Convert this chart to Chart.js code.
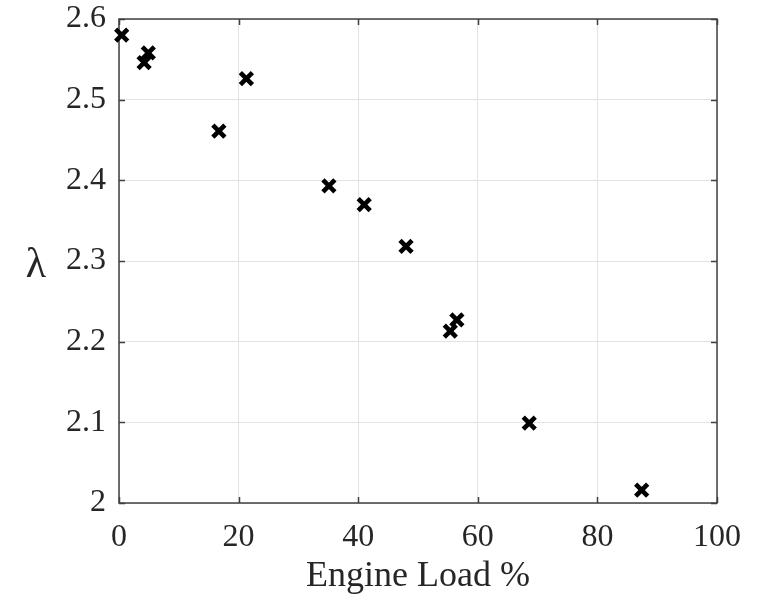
<!DOCTYPE html>
<html>
<head>
<meta charset="utf-8">
<script src="https://cdn.jsdelivr.net/npm/chart.js@4"></script>
<style>
  html, body { margin: 0; padding: 0; background: #ffffff; }
  #wrap { width: 770px; height: 600px; position: relative; }
</style>
</head>
<body>
<div id="wrap"><canvas id="c" width="770" height="600"></canvas></div>
<script>
const engineLoad = [0.45, 4.2, 4.9, 16.7, 21.3, 35.1, 41.0, 48.0, 55.4, 56.5, 68.6, 87.4];
const lambdaValues = [2.580, 2.546, 2.558, 2.461, 2.526, 2.393, 2.370, 2.318, 2.213, 2.227, 2.099, 2.016];
const xTicks = [0, 20, 40, 60, 80, 100];
const yTicks = [2, 2.1, 2.2, 2.3, 2.4, 2.5, 2.6];
const xTitle = 'Engine Load %';
const yTitle = 'λ';

const points = engineLoad.map((x, i) => ({ x: x, y: lambdaValues[i] }));
const FONT = '"Liberation Serif", "Times New Roman", serif';
const AXIS_COLOR = '#262626';

const framePlugin = {
  id: 'frame',
  beforeDatasetsDraw(chart) {
    const { ctx, chartArea: a, scales } = chart;
    ctx.save();
    ctx.strokeStyle = '#404040';
    ctx.lineWidth = 1.5;
    ctx.strokeRect(a.left, a.top, a.right - a.left, a.bottom - a.top);
    const tl = 6;
    ctx.beginPath();
    xTicks.forEach(v => {
      const px = Math.round(scales.x.getPixelForValue(v)) + 0.5;
      ctx.moveTo(px, a.bottom); ctx.lineTo(px, a.bottom - tl);
      ctx.moveTo(px, a.top); ctx.lineTo(px, a.top + tl);
    });
    yTicks.forEach(v => {
      const py = Math.round(scales.y.getPixelForValue(v)) + 0.5;
      ctx.moveTo(a.left, py); ctx.lineTo(a.left + tl, py);
      ctx.moveTo(a.right, py); ctx.lineTo(a.right - tl, py);
    });
    ctx.stroke();
    // y axis title (unrotated, as in the reference)
    ctx.fillStyle = AXIS_COLOR;
    ctx.font = '42px ' + FONT;
    ctx.textAlign = 'center';
    ctx.textBaseline = 'alphabetic';
    ctx.fillText(yTitle, 36, 277);
    ctx.restore();
  }
};

new Chart(document.getElementById('c'), {
  type: 'scatter',
  data: {
    datasets: [{
      data: points,
      clip: false,
      pointStyle: 'crossRot',
      pointRadius: 8.5,
      pointHoverRadius: 8.5,
      borderColor: '#000000',
      backgroundColor: '#000000',
      pointBorderWidth: 4.6,
      pointHoverBorderWidth: 4.6
    }]
  },
  plugins: [framePlugin],
  options: {
    responsive: false,
    animation: false,
    devicePixelRatio: 1,
    layout: { padding: { top: 19, right: 53, bottom: 0, left: 0 } },
    plugins: { legend: { display: false }, tooltip: { enabled: false } },
    scales: {
      x: {
        type: 'linear',
        min: 0, max: 100,
        afterBuildTicks: s => { s.ticks = xTicks.map(v => ({ value: v })); },
        afterFit: s => { s.height = 97; s.paddingLeft = 0; s.paddingRight = 0; },
        ticks: {
          color: AXIS_COLOR,
          font: { family: FONT, size: 32 },
          padding: 15,
          maxRotation: 0
        },
        grid: { color: '#e3e3e3', lineWidth: 1, drawTicks: false },
        border: { display: false },
        title: {
          display: true,
          text: xTitle,
          color: AXIS_COLOR,
          font: { family: FONT, size: 36 },
          padding: { top: 0, bottom: 2 }
        }
      },
      y: {
        type: 'linear',
        min: 2, max: 2.6,
        afterBuildTicks: s => { s.ticks = yTicks.map(v => ({ value: v })); },
        afterFit: s => { s.width = 119; s.paddingTop = 0; s.paddingBottom = 0; },
        ticks: {
          color: AXIS_COLOR,
          font: { family: FONT, size: 32 },
          padding: 13,
          callback: v => String(Number(v.toFixed(1)))
        },
        grid: { color: '#e3e3e3', lineWidth: 1, drawTicks: false },
        border: { display: false }
      }
    }
  }
});
</script>
</body>
</html>
